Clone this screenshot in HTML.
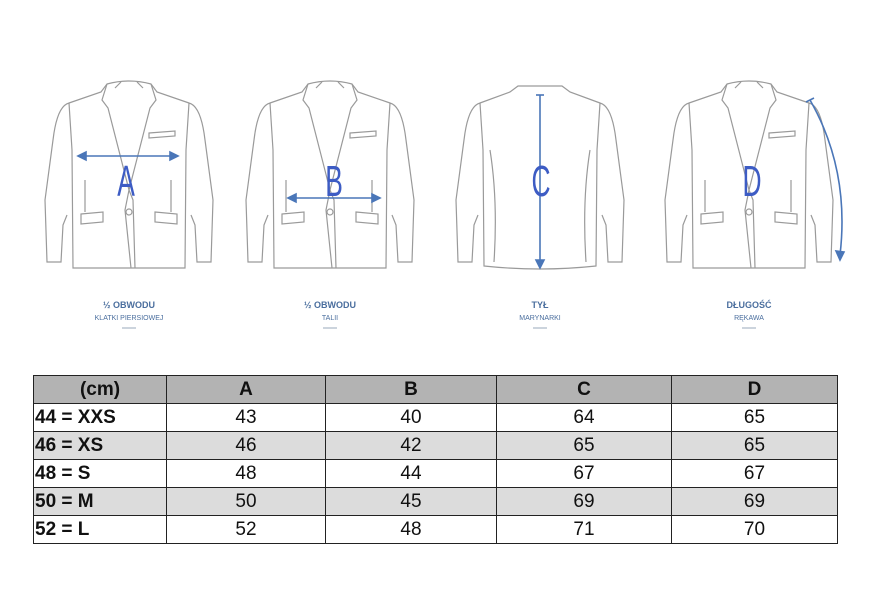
<!DOCTYPE html>
<html><head><meta charset="utf-8"><style>
body{margin:0;background:#fff;width:895px;height:589px;position:relative;overflow:hidden;font-family:"Liberation Sans",Arial,sans-serif}
table{position:absolute;left:33px;top:375px;border-collapse:collapse;table-layout:fixed}
td{border:1px solid #222;height:27px;padding:0;font-size:19px;text-align:center;color:#111;line-height:26px}
td.l{text-align:left;font-weight:bold;padding-left:1px}
tr.h td{background:#b3b3b3;font-weight:bold}
tr.g td{background:#dcdcdc}
</style></head><body>
<svg width="895" height="360" style="position:absolute;left:0;top:0" font-family="Liberation Sans, sans-serif">
<defs>
<g id="j" fill="none" stroke="#9a9a9a" stroke-width="1.2">
<path d="M-60,103 L-28,92 L-22,84 Q0,78 22,84 L28,92 L60,103"/>
<path d="M-60,103 Q-72,106 -76,140 L-84,200 L-82,262 L-68,262 L-66,225 L-62,215"/>
<path d="M60,103 Q72,106 76,140 L84,200 L82,262 L68,262 L66,225 L62,215"/>
<path d="M-60,103 L-57,150 L-56,268 L56,268 L57,150 L60,103"/>
<path d="M-22,84 L-27,100 L-21,108 L0,190 L-4,210 L2,268"/>
<path d="M22,84 L27,100 L21,108 L0,190 L4,200 L6,268"/>
<path d="M-14,88 L-8,82 M14,88 L8,82"/>
<path d="M-48,214 L-26,212 L-26,222 L-48,224 Z M26,212 L48,214 L48,224 L26,222 Z M20,133 L46,131 L46,136 L20,138 Z"/>
<path d="M-44,180 L-44,212 M42,180 L42,212"/>
<circle cx="0" cy="212" r="3"/>
</g>
<g id="b" fill="none" stroke="#9a9a9a" stroke-width="1.2">
<path d="M-60,103 L-30,92 L-22,86 L22,86 L30,92 L60,103"/>
<path d="M-60,103 Q-72,106 -76,140 L-84,200 L-82,262 L-68,262 L-66,225 L-62,215"/>
<path d="M60,103 Q72,106 76,140 L84,200 L82,262 L68,262 L66,225 L62,215"/>
<path d="M-60,103 L-57,150 L-56,266 Q0,272 56,266 L57,150 L60,103"/>
<path d="M-50,150 Q-42,200 -46,262 M50,150 Q42,200 46,262"/>
</g>
</defs>
<use href="#j" transform="translate(129,0)"/>
<use href="#j" transform="translate(330,0)"/>
<use href="#b" transform="translate(540,0)"/>
<use href="#j" transform="translate(749,0)"/>
<g stroke="#4a76b8" stroke-width="1.6" fill="#4a76b8">
<line x1="82" y1="156" x2="174" y2="156"/><path d="M78,156 l8,-4 v8z M178,156 l-8,-4 v8z"/>
<line x1="292" y1="198" x2="376" y2="198"/><path d="M288,198 l8,-4 v8z M380,198 l-8,-4 v8z"/>
<line x1="540" y1="95" x2="540" y2="262"/><path d="M540,268 l-4,-8 h8z"/>
<line x1="536" y1="95" x2="544" y2="95"/>
<path d="M810,100 Q850,170 840,255" fill="none"/><path d="M840,260 l-4,-9 l8,1z"/>
<line x1="806" y1="102" x2="814" y2="98"/>
</g>
<g fill="#3d5cc4" font-size="44">
<text transform="translate(126,196) scale(0.6,1)" text-anchor="middle">A</text>
<text transform="translate(334,196) scale(0.6,1)" text-anchor="middle">B</text>
<text transform="translate(541,196) scale(0.6,1)" text-anchor="middle">C</text>
<text transform="translate(752,196) scale(0.6,1)" text-anchor="middle">D</text>
</g>
<g fill="#4a6e9e" text-anchor="middle">
<text x="129" y="308" font-size="9" font-weight="bold">½ OBWODU</text>
<text x="129" y="320" font-size="7">KLATKI PIERSIOWEJ</text>
<text x="330" y="308" font-size="9" font-weight="bold">½ OBWODU</text>
<text x="330" y="320" font-size="7">TALII</text>
<text x="540" y="308" font-size="9" font-weight="bold">TYŁ</text>
<text x="540" y="320" font-size="7">MARYNARKI</text>
<text x="749" y="308" font-size="9" font-weight="bold">DŁUGOŚĆ</text>
<text x="749" y="320" font-size="7">RĘKAWA</text>
</g>
<g stroke="#9ab" stroke-width="1"><line x1="122" y1="328" x2="136" y2="328"/><line x1="323" y1="328" x2="337" y2="328"/><line x1="533" y1="328" x2="547" y2="328"/><line x1="742" y1="328" x2="756" y2="328"/></g>
</svg>
<table>
<colgroup><col style="width:133px"><col style="width:159px"><col style="width:171px"><col style="width:175px"><col style="width:166px"></colgroup>
<tr class="h"><td>(cm)</td><td>A</td><td>B</td><td>C</td><td>D</td></tr>
<tr><td class="l">44 = XXS</td><td>43</td><td>40</td><td>64</td><td>65</td></tr>
<tr class="g"><td class="l">46 = XS</td><td>46</td><td>42</td><td>65</td><td>65</td></tr>
<tr><td class="l">48 = S</td><td>48</td><td>44</td><td>67</td><td>67</td></tr>
<tr class="g"><td class="l">50 = M</td><td>50</td><td>45</td><td>69</td><td>69</td></tr>
<tr><td class="l">52 = L</td><td>52</td><td>48</td><td>71</td><td>70</td></tr>
</table>
</body></html>
